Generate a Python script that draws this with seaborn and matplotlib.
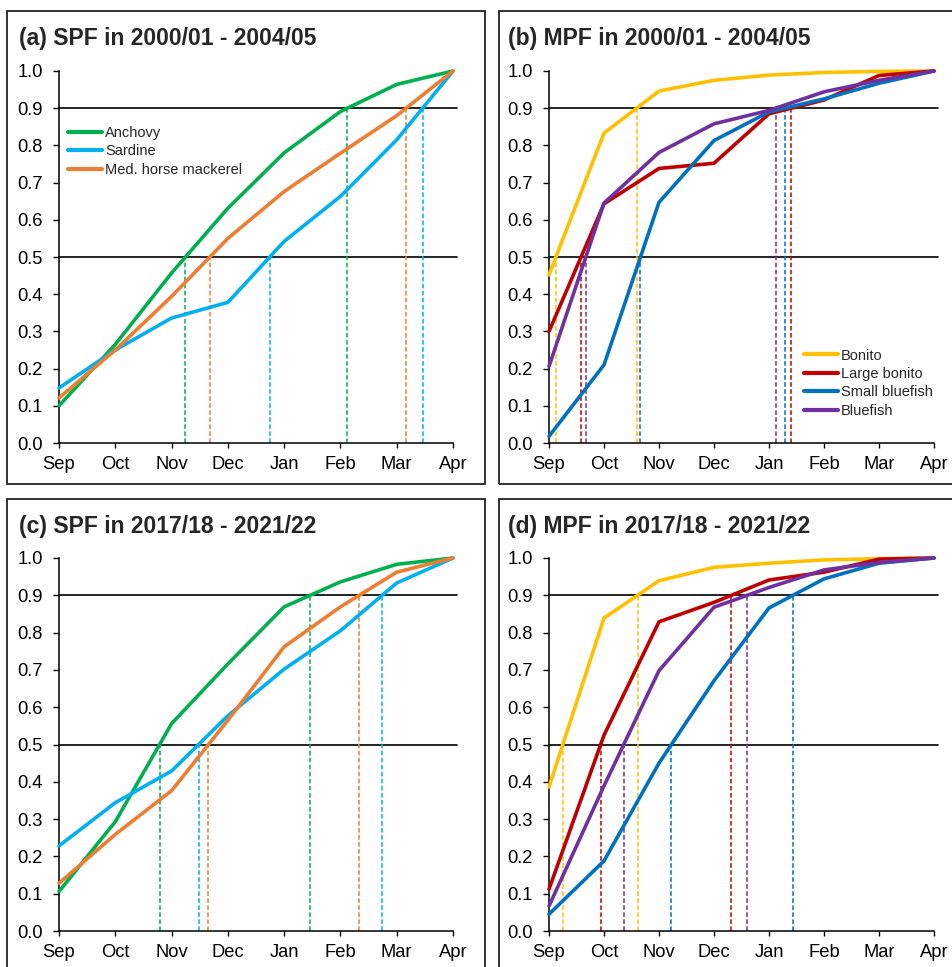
import numpy as np
import pandas as pd
import matplotlib
matplotlib.use("Agg")
import matplotlib.pyplot as plt
from matplotlib.lines import Line2D
from matplotlib.patches import Rectangle
import seaborn as sns

sns.set_style("ticks")
plt.rcParams['font.family'] = ['Liberation Sans', 'DejaVu Sans']

months = ["Sep", "Oct", "Nov", "Dec", "Jan", "Feb", "Mar", "Apr"]
yticks = [0.0, 0.1, 0.2, 0.3, 0.4, 0.5, 0.6, 0.7, 0.8, 0.9, 1.0]
thresholds = [0.5, 0.9]

titles = ["(a) SPF in 2000/01 - 2004/05", "(b) MPF in 2000/01 - 2004/05",
          "(c) SPF in 2017/18 - 2021/22", "(d) MPF in 2017/18 - 2021/22"]

spf_species = ["Anchovy", "Sardine", "Med. horse mackerel"]
mpf_species = ["Bonito", "Large bonito", "Small bluefish", "Bluefish"]

# (a) SPF 2000/01 - 2004/05
a_anchovy = [0.10, 0.265, 0.457, 0.631, 0.780, 0.891, 0.964, 1.0]
a_sardine = [0.148, 0.250, 0.336, 0.378, 0.542, 0.663, 0.815, 1.0]
a_mhm = [0.121, 0.250, 0.394, 0.550, 0.676, 0.779, 0.880, 1.0]

# (b) MPF 2000/01 - 2004/05
b_bonito = [0.452, 0.833, 0.946, 0.975, 0.989, 0.996, 0.999, 1.0]
b_large_bonito = [0.300, 0.643, 0.738, 0.752, 0.885, 0.922, 0.988, 1.0]
b_small_bluefish = [0.018, 0.210, 0.647, 0.813, 0.890, 0.925, 0.967, 1.0]
b_bluefish = [0.206, 0.645, 0.781, 0.858, 0.894, 0.944, 0.975, 1.0]

# (c) SPF 2017/18 - 2021/22
c_anchovy = [0.106, 0.293, 0.556, 0.716, 0.869, 0.936, 0.983, 1.0]
c_sardine = [0.228, 0.344, 0.429, 0.577, 0.702, 0.805, 0.933, 1.0]
c_mhm = [0.128, 0.259, 0.376, 0.565, 0.762, 0.869, 0.962, 1.0]

# (d) MPF 2017/18 - 2021/22
d_bonito = [0.386, 0.839, 0.939, 0.975, 0.986, 0.995, 0.998, 1.0]
d_large_bonito = [0.112, 0.525, 0.829, 0.881, 0.941, 0.962, 0.997, 1.0]
d_small_bluefish = [0.045, 0.188, 0.450, 0.671, 0.866, 0.944, 0.986, 1.0]
d_bluefish = [0.067, 0.389, 0.698, 0.868, 0.921, 0.968, 0.988, 1.0]

spf_colors = ["#00B050", "#00B0F0", "#ED7D31"]
mpf_colors = ["#FFC000", "#C00000", "#0070C0", "#7030A0"]

panels = [
    (spf_species, [a_anchovy, a_sardine, a_mhm], spf_colors, True),
    (mpf_species, [b_bonito, b_large_bonito, b_small_bluefish, b_bluefish], mpf_colors, True),
    (spf_species, [c_anchovy, c_sardine, c_mhm], spf_colors, False),
    (mpf_species, [d_bonito, d_large_bonito, d_small_bluefish, d_bluefish], mpf_colors, False),
]

W, H = 953, 967
fig = plt.figure(figsize=(W / 100, H / 100), dpi=100)

# axes pixel boxes: left, right, top, bottom
ax_boxes = [(59, 453, 71, 443), (549, 934, 71, 443),
            (59, 453, 558, 931), (549, 934, 558, 931)]
frame_boxes = [(7, 485, 11, 484), (499, 965, 11, 484),
               (7, 485, 499, 980), (499, 965, 499, 980)]
title_pos = [(19, 38), (508, 38), (19, 526), (508, 526)]
legend_anchor = [(0.023, 0.852), (0.662, 0.254)]

for i, (species, series, colors, show_leg) in enumerate(panels):
    l, r, t, b = ax_boxes[i]
    ax = fig.add_axes([l / W, 1 - b / H, (r - l) / W, (b - t) / H])

    # frame around panel
    fl, fr, ft, fb = frame_boxes[i]
    fig.patches.append(Rectangle((fl / W, 1 - fb / H), (fr - fl) / W, (fb - ft) / H,
                                 transform=fig.transFigure, fill=False,
                                 edgecolor="#222222", linewidth=1.3, zorder=0))

    x = np.arange(len(months))
    df = pd.DataFrame({
        "month": np.tile(x, len(species)),
        "value": np.concatenate(series),
        "species": np.repeat(species, len(months)),
    })

    # threshold lines
    for th in thresholds:
        ax.plot([0, 7.07], [th, th], color="black", lw=1.2, clip_on=False, zorder=1)

    # dashed verticals at threshold crossings
    for vals, col in zip(series, colors):
        for th in thresholds:
            xc = np.interp(th, vals, x)
            ax.plot([xc, xc], [0, th], color=col, lw=1.1, ls=(0, (3, 1.6)), zorder=2)

    sns.lineplot(data=df, x="month", y="value", hue="species", hue_order=species,
                 palette=colors, linewidth=2.6, legend=False, ax=ax, sort=False,
                 zorder=3, clip_on=False)

    ax.set_xlim(0, 7)
    ax.set_ylim(0, 1)
    ax.set_xticks(x)
    ax.set_xticklabels(months)
    ax.set_yticks(yticks)
    ax.set_yticklabels([f"{v:.1f}" for v in yticks])
    ax.set_xlabel("")
    ax.set_ylabel("")
    ax.tick_params(axis="both", labelsize=13.2, width=1.0,
                   color="black", labelcolor="black", direction="out")
    ax.tick_params(axis="y", pad=7, length=4.5)
    ax.tick_params(axis="x", pad=6, length=3.5)
    for s in ["top", "right"]:
        ax.spines[s].set_visible(False)
    for s in ["left", "bottom"]:
        ax.spines[s].set_color("black")
        ax.spines[s].set_linewidth(1.1)
    ax.set_facecolor("none")

    fig.text(title_pos[i][0] / W, 1 - title_pos[i][1] / H, titles[i],
             fontsize=16.5, fontweight="bold", ha="left", va="center")

    if show_leg:
        handles = [Line2D([0], [0], color=c, lw=3.0) for c in colors]
        ax.legend(handles, species, loc="upper left", bbox_to_anchor=legend_anchor[i],
                  frameon=False, fontsize=10.5, handlelength=2.35, handletextpad=0.2,
                  labelspacing=0.3, borderpad=0, borderaxespad=0)

fig.savefig("out.png", dpi=100)
